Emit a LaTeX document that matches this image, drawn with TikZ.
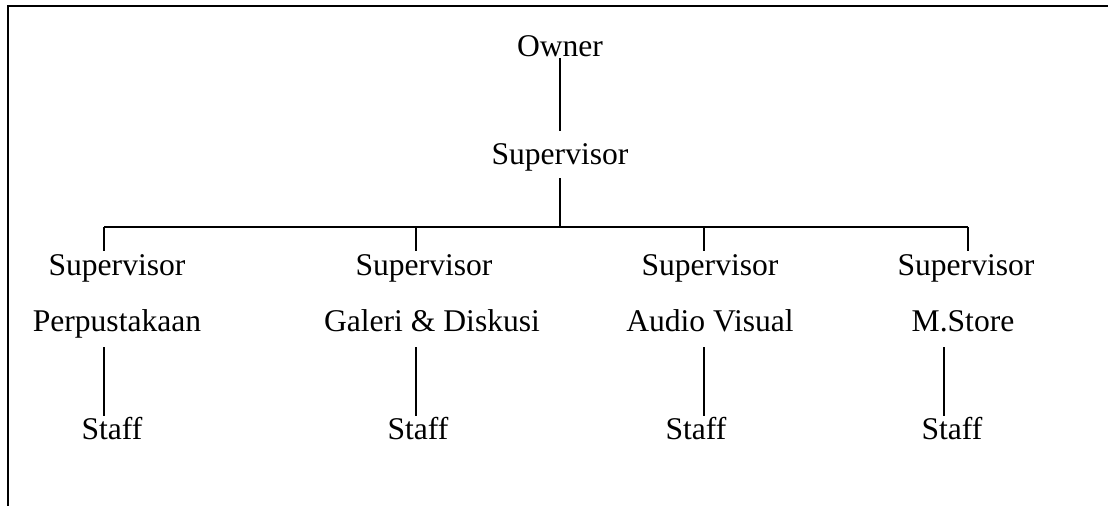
\documentclass[tikz,border=0pt]{standalone}
\usepackage{fontspec}
\setmainfont{Liberation Serif}
\usepackage{tikz}
\tikzstyle{lbl} = [inner sep=0pt, anchor=base, text height=11pt, text depth=3.5pt, font=\fontsize{15.8}{19}\selectfont]
\tikzstyle{link} = [line width=0.75pt]
\tikzstyle{frame} = [line width=1pt]

\begin{document}
\begin{tikzpicture}[x=0.5pt, y=-0.5pt]
   \useasboundingbox (0,0) rectangle (1108,506);
   \draw [frame] (1108,6) -- (8,6) -- (8,506);
   % top
   \node (owner) [lbl] at (560,57) {Owner};
   \node (sup) [lbl] at (560,165) {Supervisor};
   % bus
   \coordinate (d1) at (104,227);
   \coordinate (d2) at (416,227);
   \coordinate (d3) at (704,227);
   \coordinate (d4) at (968,227);
   \coordinate (dm) at (560,227);
   % stems to staff
   \coordinate (s1) at (104,380);
   \coordinate (s2) at (416,380);
   \coordinate (s3) at (704,380);
   \coordinate (s4) at (944,380);
   % columns
   \node (sup1) [lbl] at (117,276) {Supervisor};
   \node (dep1) [lbl] at (117,332) {Perpustakaan};
   \node (staff1) [lbl] at (112,440) {Staff};
   \node (sup2) [lbl] at (424,276) {Supervisor};
   \node (dep2) [lbl] at (432,332) {Galeri \& Diskusi};
   \node (staff2) [lbl] at (418,440) {Staff};
   \node (sup3) [lbl] at (710,276) {Supervisor};
   \node (dep3) [lbl] at (710,332) {Audio Visual};
   \node (staff3) [lbl] at (696,440) {Staff};
   \node (sup4) [lbl] at (966,276) {Supervisor};
   \node (dep4) [lbl] at (963,332) {M.Store};
   \node (staff4) [lbl] at (952,440) {Staff};
   % connectors
   \draw [link, shorten <=0.5pt, shorten >=6pt] (owner.base) -- (owner.base |- sup.north);
   \draw [link, shorten <=3pt] (sup.south) -- (dm);
   \draw [link] (d1) -- (d4);
   \foreach \i in {1,...,4}{
      \draw [link, shorten >=1.5pt] (d\i) -- (d\i |- sup\i.north);
      \draw [link, shorten <=4pt, shorten >=1pt] (s\i |- dep\i.south) -- (s\i |- staff\i.north);
   }
\end{tikzpicture}
\end{document}
